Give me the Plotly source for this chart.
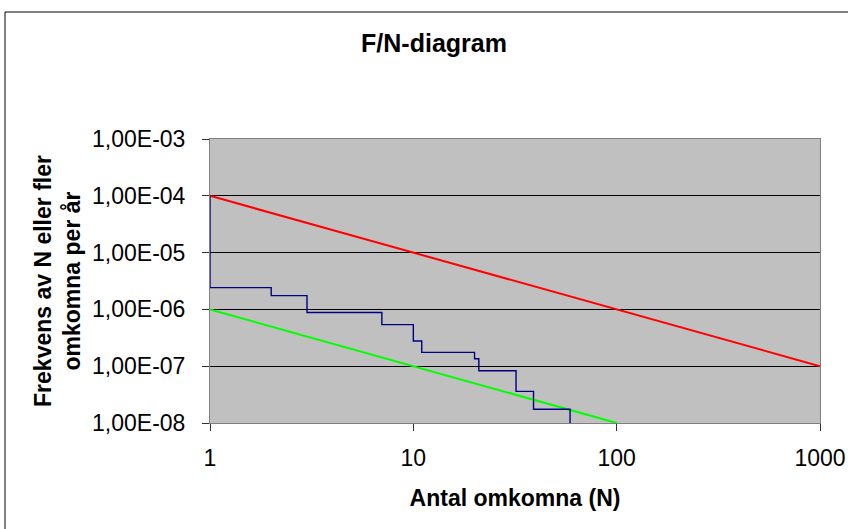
import plotly.graph_objects as go

# Data
step_N = [1, 1, 2, 3, 7, 10, 11, 20, 21, 32, 39, 59]
step_F = [1e-4, 2.42e-6, 1.75e-6, 8.8e-7, 5.4e-7, 2.77e-7, 1.75e-7, 1.35e-7, 8.3e-8, 3.6e-8, 1.75e-8, 1e-9]
upper_N = [1, 1000]
upper_F = [1e-4, 1e-7]
lower_N = [1, 100]
lower_F = [1e-6, 1e-8]
y_tickvals = [1e-3, 1e-4, 1e-5, 1e-6, 1e-7, 1e-8]
y_ticktext = ["1,00E-03", "1,00E-04", "1,00E-05", "1,00E-06", "1,00E-07", "1,00E-08"]
x_tickvals = [1, 10, 100, 1000]
x_ticktext = ["1", "10", "100", "1000"]

FONT = "Liberation Sans, Arial, sans-serif"

fig = go.Figure()
fig.add_trace(go.Scatter(x=upper_N, y=upper_F, mode="lines",
                         line=dict(color="#FF0000", width=2), showlegend=False))
fig.add_trace(go.Scatter(x=lower_N, y=lower_F, mode="lines",
                         line=dict(color="#00FF00", width=2), showlegend=False))
fig.add_trace(go.Scatter(x=step_N, y=step_F, mode="lines", line_shape="hv",
                         line=dict(color="#000080", width=1.4), showlegend=False))

fig.update_layout(
    width=848, height=529,
    margin=dict(l=210, r=28, t=139, b=106, autoexpand=False),
    paper_bgcolor="white",
    plot_bgcolor="#C0C0C0",
    font=dict(family=FONT, size=23, color="black"),
    title=dict(text="<b>F/N-diagram</b>", x=434/848, xanchor="center",
               y=1 - 43/529, yanchor="middle", font=dict(size=25)),
    xaxis=dict(type="log", range=[0, 3], tickvals=x_tickvals, ticktext=x_ticktext,
               showgrid=False, zeroline=False, ticks="outside", ticklen=7,
               tickcolor="#303030", showline=True, linecolor="#808080", linewidth=1,
               mirror=True, ticklabelstandoff=7, automargin=False,
               title=dict(text="<b>Antal omkomna (N)</b>", font=dict(size=23), standoff=20)),
    yaxis=dict(type="log", range=[-8, -3], tickvals=y_tickvals, ticktext=y_ticktext,
               showgrid=True, gridcolor="black", gridwidth=1, zeroline=False,
               ticks="outside", ticklen=7, tickcolor="#303030",
               showline=True, linecolor="#808080", linewidth=1, mirror=True,
               ticklabelstandoff=12, automargin=False,
               title=dict(text="<b>Frekvens av N eller fler<br>omkomna per år</b>",
                          font=dict(size=23), standoff=4)),
)

# outer chart border
fig.add_shape(type="rect", xref="paper", yref="paper",
              x0=(5 - 210) / 610, x1=1.2, y0=-0.5, y1=(423 - 12) / 284,
              line=dict(color="black", width=1), fillcolor="rgba(0,0,0,0)", layer="below")

fig.write_html("out.html", config={"displayModeBar": False},
               post_script="document.body.style.margin='0';")
